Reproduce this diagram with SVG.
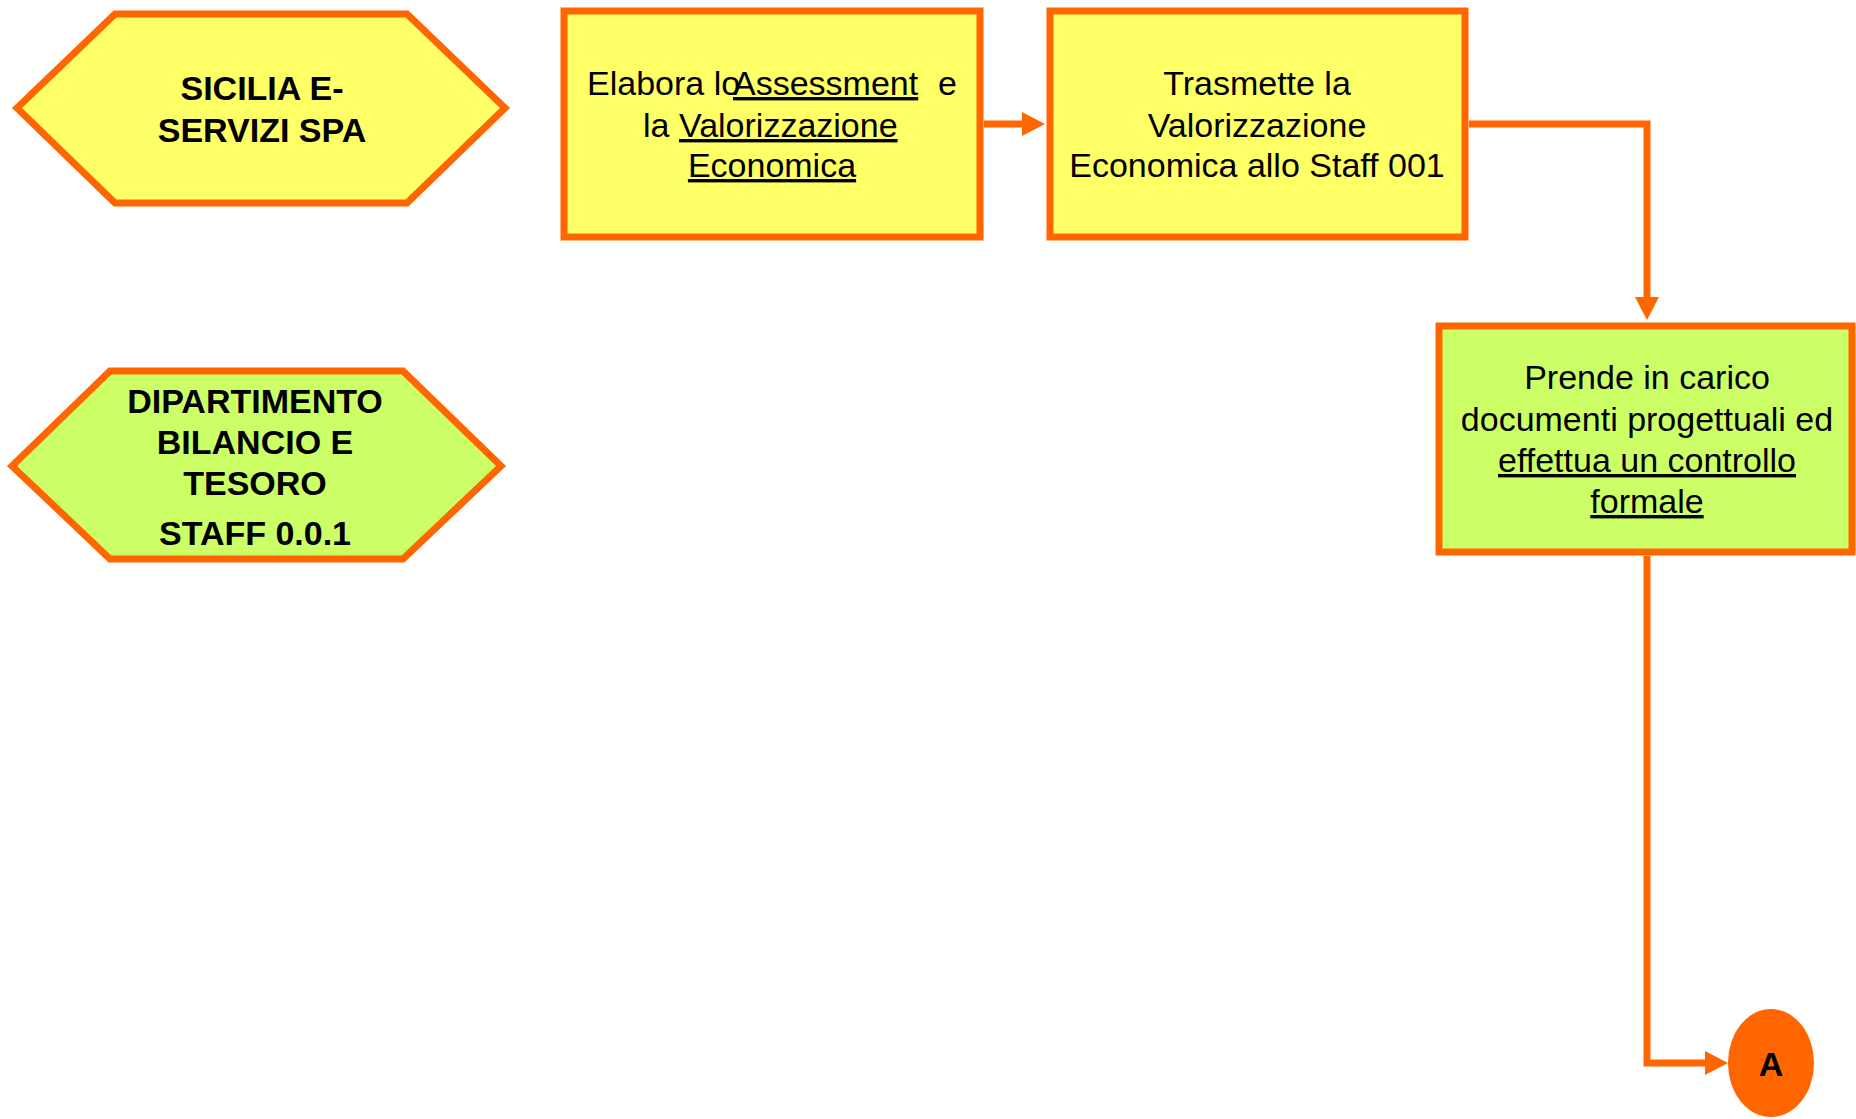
<svg xmlns="http://www.w3.org/2000/svg" width="1856" height="1119" viewBox="0 0 1856 1119">
<style>
.shape{stroke:#FF6600;stroke-width:7;stroke-linejoin:miter}
.y{fill:#FFFF66}
.g{fill:#CCFF66}
.t{font-family:"Liberation Sans",Arial,sans-serif;font-size:34px;fill:#000;text-anchor:middle}
.b{font-weight:bold}
.u{text-decoration:underline}
.s{text-anchor:start}
.conn{fill:none;stroke:#FF6600;stroke-width:7}
</style>
<defs>
<marker id="ah" viewBox="0 -12 23 24" markerWidth="23" markerHeight="24" refX="0" refY="0" markerUnits="userSpaceOnUse" orient="auto">
<path d="M0,-12 L23,0 L0,12 z" fill="#FF6600"/>
</marker>
</defs>
<rect width="1856" height="1119" fill="#FFFFFF"/>
<g id="connectors">
<path class="conn" d="M984,124 H1022" marker-end="url(#ah)"/>
<path class="conn" d="M1469,124 H1647 V297" marker-end="url(#ah)"/>
<path class="conn" d="M1647,556 V1063 H1705" marker-end="url(#ah)"/>
</g>
<g id="sicilia">
<polygon class="shape y" points="17,108 115,14 407,14 505,108 407,203 115,203"/>
<text class="t b" x="262" y="100">SICILIA E-</text>
<text class="t b" x="262" y="142">SERVIZI SPA</text>
</g>
<g id="dipartimento">
<polygon class="shape g" points="12,466 110,371 403,371 501,466 403,559 110,559"/>
<text class="t b" x="255" y="413">DIPARTIMENTO</text>
<text class="t b" x="255" y="454">BILANCIO E</text>
<text class="t b" x="255" y="495">TESORO</text>
<text class="t b" x="255" y="545">STAFF 0.0.1</text>
</g>
<g id="elabora">
<rect class="shape y" x="564" y="11" width="416" height="226"/>
<text class="t s" x="587" y="95">Elabora lo</text>
<text class="t s u" x="733" y="95">Assessment</text>
<text class="t s" x="938" y="95">e</text>
<text class="t s" x="643" y="137">la</text>
<text class="t s u" x="679" y="137">Valorizzazione</text>
<text class="t u" x="772" y="177">Economica</text>
</g>
<g id="trasmette">
<rect class="shape y" x="1050" y="11" width="415" height="226"/>
<text class="t" x="1257" y="95">Trasmette la</text>
<text class="t" x="1257" y="137">Valorizzazione</text>
<text class="t" x="1257" y="177">Economica allo Staff 001</text>
</g>
<g id="prende">
<rect class="shape g" x="1439" y="326" width="413" height="226"/>
<text class="t" x="1647" y="389">Prende in carico</text>
<text class="t" x="1647" y="431">documenti progettuali ed</text>
<text class="t u" x="1647" y="472">effettua un controllo</text>
<text class="t u" x="1647" y="513">formale</text>
</g>
<g id="connettore-a">
<ellipse cx="1771" cy="1063" rx="43" ry="54" fill="#FF6600"/>
<text class="t b" x="1771" y="1076">A</text>
</g>
</svg>
